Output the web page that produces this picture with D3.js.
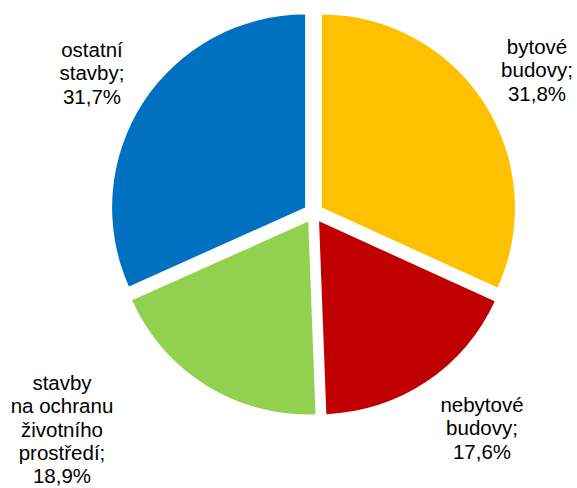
<!DOCTYPE html>
<meta charset="utf-8">
<script src="https://d3js.org/d3.v7.min.js"></script>
<style>
  body { margin: 0; background: #fff; }
  text { font-family: "Liberation Sans", Arial, sans-serif; font-size: 20.5px; fill: #000; }
</style>
<div id="chart"></div>
<script>
  // data
  var categories = ["bytové budovy", "nebytové budovy", "stavby na ochranu životního prostředí", "ostatní stavby"];
  var shares = [31.8, 17.6, 18.9, 31.7];
  var colors = ["#FFC000", "#C00000", "#92D050", "#0070C0"];
  var labelLines = [
    ["bytové", "budovy;", "31,8%"],
    ["nebytové", "budovy;", "17,6%"],
    ["stavby", "na ochranu", "životního", "prostředí;", "18,9%"],
    ["ostatní", "stavby;", "31,7%"]
  ];
  // label anchor (center x, first baseline y)
  var labelPos = [[537, 54], [482, 412], [62, 390], [92, 57]];

  var width = 577, height = 488;
  var cx = 313.5, cy = 213, radius = 193, explode = 10;

  var svg = d3.select("#chart")
    .append("svg")
      .attr("width", width)
      .attr("height", height);

  var pie = d3.pie().sort(null).value(function(d){ return d; });
  var arc = d3.arc().innerRadius(0).outerRadius(radius);

  var g = svg.append("g")
    .attr("transform", "translate(" + cx + "," + cy + ")");

  //slices, each pushed out along its mid angle
  g.selectAll("path")
    .data(pie(shares))
    .enter()
    .append("path")
      .attr("d", arc)
      .attr("fill", function(d, i){ return colors[i]; })
      .attr("transform", function(d){
        var a = (d.startAngle + d.endAngle) / 2;
        return "translate(" + (Math.sin(a) * explode) + "," + (-Math.cos(a) * explode) + ")";
      });

  //labels
  labelLines.forEach(function(lines, i){
    var t = svg.append("text")
      .attr("text-anchor", "middle")
      .attr("x", labelPos[i][0])
      .attr("y", labelPos[i][1]);
    lines.forEach(function(l, j){
      t.append("tspan")
        .attr("x", labelPos[i][0])
        .attr("dy", j === 0 ? 0 : 23.3)
        .text(l);
    });
  });
</script>
